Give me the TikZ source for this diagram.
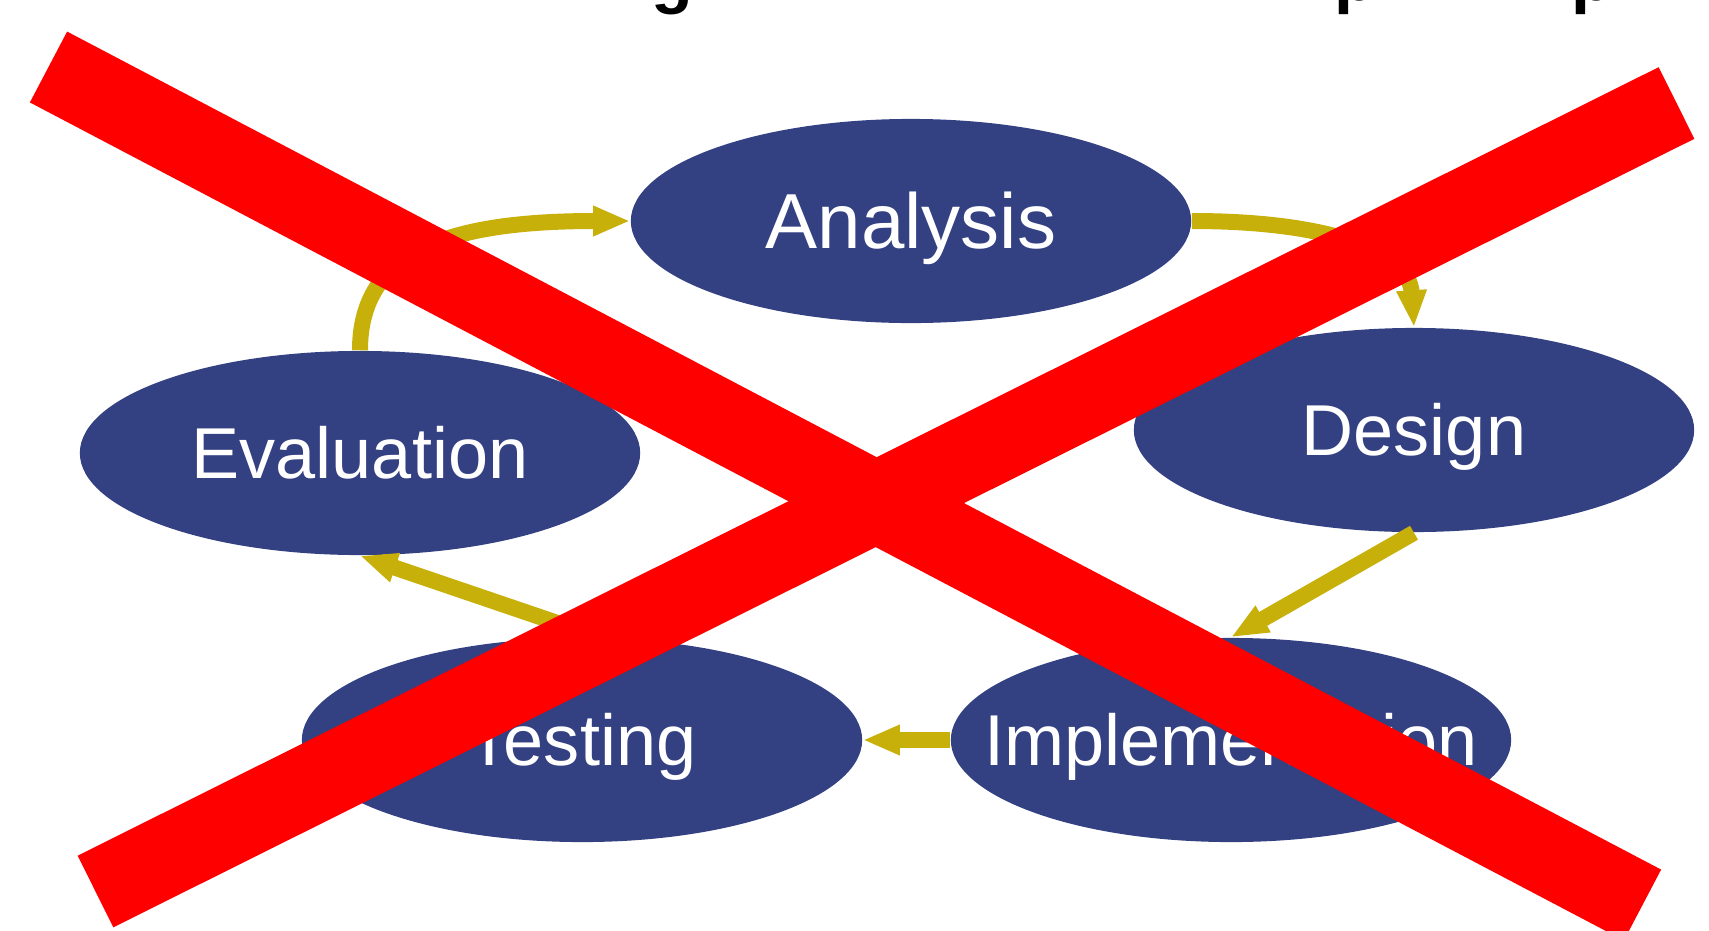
\documentclass[tikz,border=0pt]{standalone}
\usepackage{fontspec}
\setmainfont{Liberation Sans}
\usepackage{xcolor}
\usepackage{tikz}
\usetikzlibrary{arrows.meta,shapes.geometric}

\definecolor{phaseblue}{RGB}{51,64,129}
\definecolor{flowgold}{RGB}{200,176,10}

\begin{document}
\begin{tikzpicture}[
  x=0.01cm, y=-0.01cm,
  phase/.style={ellipse,fill=phaseblue,text=white,inner sep=0pt,minimum width=5.6cm,minimum height=2.04cm,
    font=\fontsize{20.5}{24}\selectfont,text height=14.7pt,text depth=0pt},
  flow/.style={draw=flowgold,line width=1.6mm,-{Triangle[length=3.7mm,width=2.8mm]}},
  cross/.style={draw=red,line width=8mm,line cap=butt}
]
\useasboundingbox (0,0) rectangle (1709,930);
\clip (0,0) rectangle (1709,930);

% heading, only its descenders reach into the frame
\node[anchor=base west,inner sep=0pt,font=\fontsize{19.4}{23}\bfseries] (headg) at (651,0) {g};
\node[anchor=base west,inner sep=0pt,font=\fontsize{19.4}{23}\bfseries] (headp) at (1334,0) {p};
\node[anchor=base west,inner sep=0pt,font=\fontsize{19.4}{23}\bfseries] (headq) at (1571,0) {p};

\node[phase,font=\fontsize{22.2}{26}\selectfont,text height=15.9pt] (analysis) at (911,221) {Analysis};
\node[phase] (design) at (1414,430) {Design};
\node[phase] (implementation) at (1231,740) {\makebox[0pt]{Implementation}};
\node[phase] (testing) at (582,740) {Testing};
\node[phase] (evaluation) at (360,453) {Evaluation};

% arrows
\draw[flow] (evaluation.north) .. controls +(0,-100) and +(-180,0) .. (analysis.west);
\draw[flow] (analysis.east) .. controls +(140,0) and +(-5,-75) .. (design.north);
\draw[flow] (design.south) -- (implementation.north);
\draw[flow] (implementation.west) -- (testing.east);
\draw[flow] (testing.80) -- (evaluation.south);

% crossed out
\draw[cross] (48.5,67) -- (1642.5,905);
\draw[cross] (95.5,891.5) -- (1676.5,103);
\end{tikzpicture}
\end{document}
